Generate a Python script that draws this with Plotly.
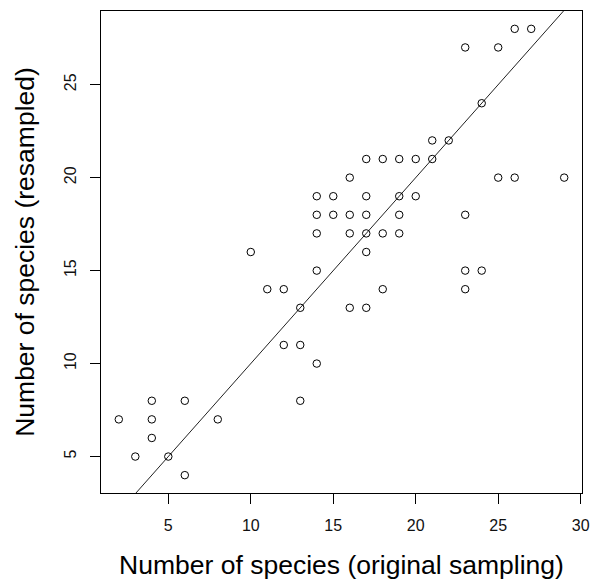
import plotly.graph_objects as go

# Data: number of species (original sampling) vs (resampled)
original = [26, 27, 23, 25, 24, 21, 22, 17, 18, 19, 20, 21,
            16, 25, 26, 29, 14, 15, 17, 19, 20,
            14, 15, 16, 17, 19, 23, 14, 16, 17, 18, 19,
            10, 17, 14, 23, 24, 11, 12, 18, 23,
            13, 16, 17, 12, 13, 14, 4, 6, 13,
            2, 4, 8, 4, 3, 5, 6]
resampled = [28, 28, 27, 27, 24, 22, 22, 21, 21, 21, 21, 21,
             20, 20, 20, 20, 19, 19, 19, 19, 19,
             18, 18, 18, 18, 18, 18, 17, 17, 17, 17, 17,
             16, 16, 15, 15, 15, 14, 14, 14, 14,
             13, 13, 13, 11, 11, 10, 8, 8, 8,
             7, 7, 7, 6, 5, 5, 4]

# reference line y = a + b*x
line_intercept = 0
line_slope = 1

x_ticks = [5, 10, 15, 20, 25, 30]
y_ticks = [5, 10, 15, 20, 25]

x_title = "Number of species (original sampling)"
y_title = "Number of species (resampled)"

# R-style 4% axis expansion
xmin, xmax = min(original), max(original)
ymin, ymax = min(resampled), max(resampled)
xpad = 0.04 * (xmax - xmin)
ypad = 0.04 * (ymax - ymin)
xr = [xmin - xpad, xmax + xpad]
yr = [ymin - ypad, ymax + ypad]

line_x = [xr[0] - 5, xr[1] + 5]
line_y = [line_intercept + line_slope * v for v in line_x]

FONT = "Liberation Sans, Arial, sans-serif"

fig = go.Figure()
fig.add_trace(go.Scatter(
    x=line_x, y=line_y, mode="lines",
    line=dict(color="#222222", width=1),
    hoverinfo="skip", showlegend=False,
))
fig.add_trace(go.Scatter(
    x=original, y=resampled, mode="markers",
    marker=dict(symbol="circle-open", size=7.5, color="black",
                line=dict(color="black", width=1)),
    showlegend=False,
))

fig.update_layout(
    width=590, height=580,
    margin=dict(l=101, r=8, t=11, b=87),
    paper_bgcolor="white", plot_bgcolor="white",
    font=dict(family=FONT, color="black"),
)
fig.update_xaxes(
    automargin=False,
    range=xr, tickmode="array", tickvals=x_ticks,
    ticktext=[str(v) for v in x_ticks],
    showgrid=False, zeroline=False,
    showline=True, linecolor="black", linewidth=1, mirror=True,
    ticks="outside", ticklen=10, tickcolor="black", tickwidth=1,
    ticklabelstandoff=8,
    tickfont=dict(size=16, family=FONT, color="#111111"),
    title=dict(text=x_title, font=dict(size=26.5, family=FONT, color="black"), standoff=24),
)
fig.update_yaxes(
    automargin=False,
    range=yr, tickmode="array", tickvals=y_ticks,
    ticktext=[str(v) for v in y_ticks],
    showgrid=False, zeroline=False,
    showline=True, linecolor="black", linewidth=1, mirror=True,
    ticks="outside", ticklen=10, tickcolor="black", tickwidth=1,
    tickangle=-90,
    ticklabelstandoff=8,
    tickfont=dict(size=16, family=FONT, color="#111111"),
    title=dict(text=y_title, font=dict(size=26.5, family=FONT, color="black"), standoff=19),
)

fig.write_html("out.html")
